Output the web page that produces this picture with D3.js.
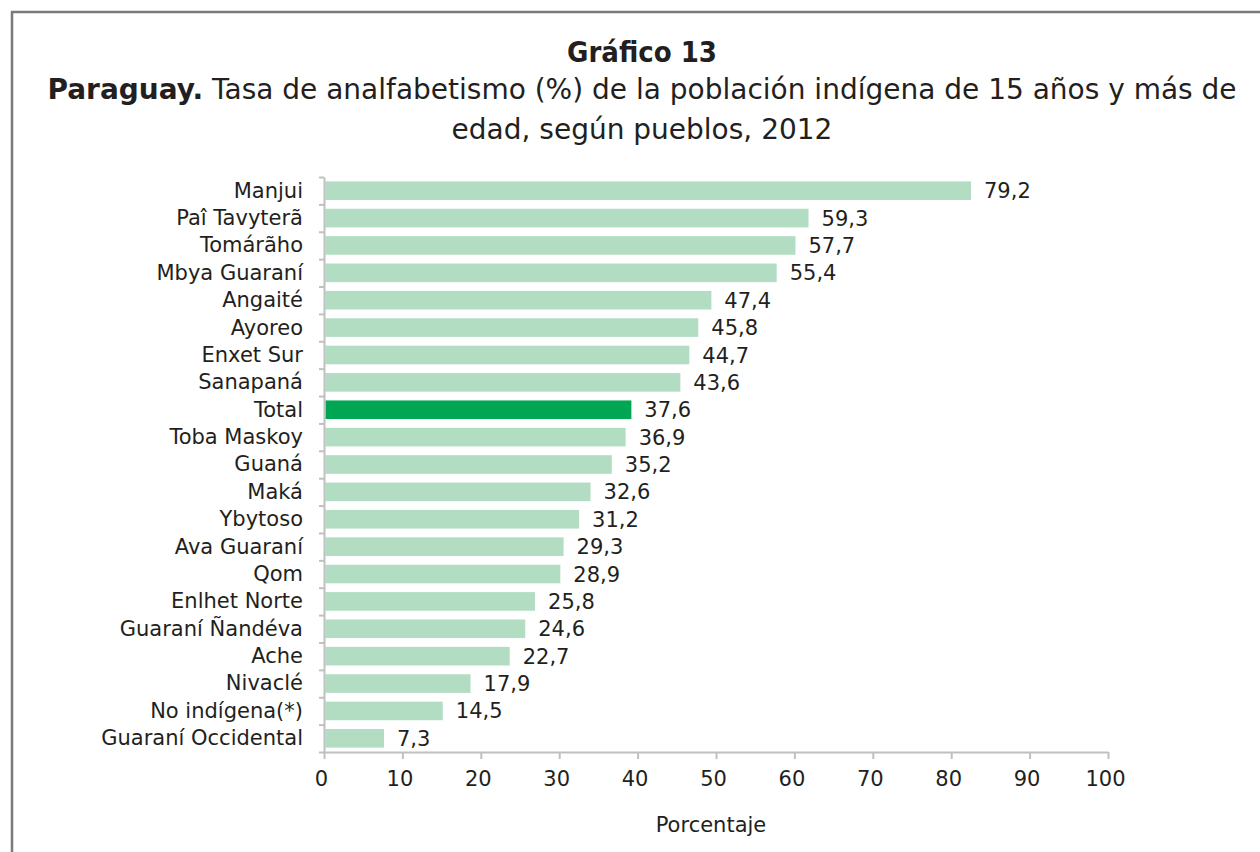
<!DOCTYPE html>
<html>
<head>
<meta charset="utf-8">
<script src="https://cdn.jsdelivr.net/npm/d3@7"></script>
<style>
  body { margin: 0; background: #fff; }
  text { font-family: "DejaVu Sans", sans-serif; fill: #231f20; }
</style>
</head>
<body>
<div id="chart"></div>
<script>
// data
var pueblos = ["Manjui", "Paî Tavyterã", "Tomárãho", "Mbya Guaraní", "Angaité", "Ayoreo",
  "Enxet Sur", "Sanapaná", "Total", "Toba Maskoy", "Guaná", "Maká", "Ybytoso",
  "Ava Guaraní", "Qom", "Enlhet Norte", "Guaraní Ñandéva", "Ache", "Nivaclé",
  "No indígena(*)", "Guaraní Occidental"]
var tasas = [79.2, 59.3, 57.7, 55.4, 47.4, 45.8, 44.7, 43.6, 37.6, 36.9, 35.2, 32.6, 31.2,
  29.3, 28.9, 25.8, 24.6, 22.7, 17.9, 14.5, 7.3]
var ticks_x = [0, 10, 20, 30, 40, 50, 60, 70, 80, 90, 100]

var W = 1260, H = 852
var PLOT = {LEFT: 324, RIGHT: 1108, TOP: 177, BOTTOM: 752}

var svg = d3.select("#chart").append("svg")
  .attr("width", W)
  .attr("height", H)

// frame, runs past the right and bottom edges
svg.append("rect")
  .attr("x", 12).attr("y", 12)
  .attr("width", 1400).attr("height", 1000)
  .attr("fill", "none")
  .attr("stroke", "#7a7a7a")
  .attr("stroke-width", 2.5)

// titles
svg.append("text")
  .attr("x", 642).attr("y", 62)
  .attr("text-anchor", "middle")
  .style("font-family", "'DejaVu Sans Condensed', 'DejaVu Sans'")
  .style("font-stretch", "condensed")
  .style("font-weight", "bold")
  .style("font-size", "29px")
  .text("Gráfico 13")

var sub = svg.append("text")
  .attr("x", 642).attr("y", 99)
  .attr("text-anchor", "middle")
  .style("font-size", "28px")
sub.append("tspan").style("font-weight", "bold").text("Paraguay.")
sub.append("tspan").text(" Tasa de analfabetismo (%) de la población indígena de 15 años y más de")

svg.append("text")
  .attr("x", 642).attr("y", 139)
  .attr("text-anchor", "middle")
  .style("font-size", "28px")
  .text("edad, según pueblos, 2012")

// scales
var y = d3.scaleBand()
  .domain(pueblos)
  .range([PLOT.TOP, PLOT.BOTTOM])
  .paddingInner(0.32)
  .paddingOuter(0.16)

var x_axis = d3.scaleLinear()
  .domain([0, 100])
  .range([PLOT.LEFT, PLOT.RIGHT])

// in the original the bars are laid out a bit wider than the printed axis
var x_bar = d3.scaleLinear()
  .domain([0, 100])
  .range([324.4, 1140.8])

// bars
svg.append("g").selectAll("rect")
  .data(pueblos)
  .enter().append("rect")
  .attr("x", x_bar(0) + 1)
  .attr("y", d => y(d))
  .attr("width", (d, i) => x_bar(tasas[i]) - x_bar(0) - 1)
  .attr("height", y.bandwidth())
  .attr("fill", d => d == "Total" ? "#00a651" : "#b3ddc3")

// value labels
svg.append("g").selectAll("text")
  .data(pueblos)
  .enter().append("text")
  .attr("x", (d, i) => x_bar(tasas[i]) + 13)
  .attr("y", d => y(d) + y.bandwidth() / 2)
  .attr("dy", "0.36em")
  .style("font-size", "21px")
  .text((d, i) => d3.format(".1f")(tasas[i]).replace(".", ","))

// y axis: labels at band centres, tick marks at band edges
var gy = svg.append("g")
  .attr("transform", `translate(${PLOT.LEFT}, 0)`)
  .call(d3.axisLeft(y).tickSize(0).tickPadding(21))
gy.select(".domain").remove()
gy.selectAll(".tick text")
  .attr("dy", "0.33em")
  .style("font-size", "21px")
  .style("font-family", "'DejaVu Sans', sans-serif")
  .attr("fill", "#231f20")

var y_edges = d3.scaleLinear()
  .domain([0, pueblos.length])
  .range([PLOT.TOP, PLOT.BOTTOM])

var gy2 = svg.append("g")
  .attr("transform", `translate(${PLOT.LEFT}, 0)`)
  .call(d3.axisLeft(y_edges).ticks(pueblos.length).tickSize(5).tickSizeOuter(0).tickFormat(""))
gy2.select(".domain").attr("stroke", "#c0c0c0").attr("stroke-width", 2)
gy2.selectAll(".tick line").attr("stroke", "#c0c0c0").attr("stroke-width", 2)

// x axis
var gx = svg.append("g")
  .attr("transform", `translate(0, ${PLOT.BOTTOM})`)
  .call(d3.axisBottom(x_axis).tickValues(ticks_x).tickSize(7).tickSizeOuter(0).tickPadding(12))
gx.select(".domain").attr("stroke", "#c0c0c0").attr("stroke-width", 2)
gx.selectAll(".tick line").attr("stroke", "#c0c0c0").attr("stroke-width", 2)
gx.selectAll(".tick text")
  .style("font-size", "21px")
  .style("font-family", "'DejaVu Sans', sans-serif")
  .attr("fill", "#231f20")
  .attr("dx", "-3")

svg.append("text")
  .attr("x", 711).attr("y", 832)
  .attr("text-anchor", "middle")
  .style("font-size", "21px")
  .text("Porcentaje")
</script>
</body>
</html>
